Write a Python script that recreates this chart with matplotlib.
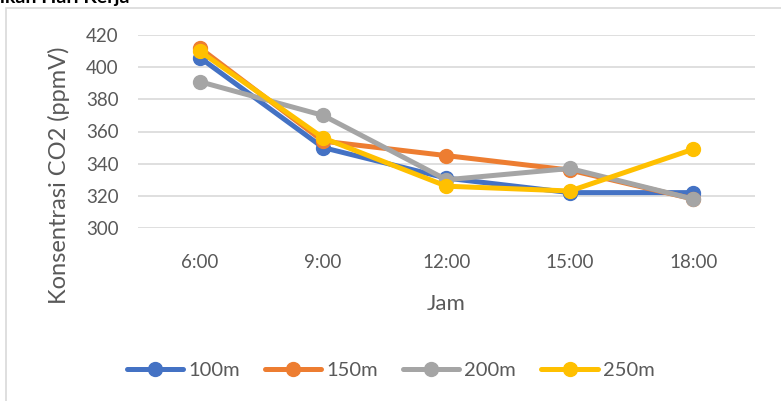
import matplotlib
matplotlib.use("Agg")
import matplotlib.pyplot as plt
from matplotlib.patches import Rectangle

categories = ["6:00", "9:00", "12:00", "15:00", "18:00"]
s100 = [406, 350, 331, 322, 322]
s150 = [412, 354, 345, 336, 318]
s200 = [391, 370, 330, 337, 318]
s250 = [410, 356, 326, 323, 349]
series_names = ["100m", "150m", "200m", "250m"]
colors = ["#4472C4", "#ED7D31", "#A5A5A5", "#FFC000"]
yticks = [300, 320, 340, 360, 380, 400, 420]

W, H = 781, 401
fig = plt.figure(figsize=(W / 100, H / 100), dpi=100)
plt.rcParams['font.family'] = ['Lato', 'DejaVu Sans']

# outer frame
fig.patches.append(Rectangle((6 / W, -0.1), 1.1, 1 - 8 / H + 0.1, transform=fig.transFigure,
                             fill=False, edgecolor="#D9D9D9", linewidth=1.2))
# title (cut off at the top edge, as in the reference)
fig.text(0.0, 1 - 3 / H, "ikan Hari Kerja", fontsize=14, fontweight="bold",
         ha="left", va="baseline", color="#000000")

ax = fig.add_axes([138 / W, 1 - 228 / H, (755 - 138) / W, (228 - 35) / H])
x = list(range(len(categories)))
for name, vals, c in zip(series_names, [s100, s150, s200, s250], colors):
    ax.plot(x, vals, color=c, linewidth=3.6, marker="o", markersize=10,
            label=name, solid_capstyle="round", zorder=3)

ax.set_xlim(-0.5, len(categories) - 0.5)
ax.set_ylim(300, 420)
ax.set_yticks(yticks)
ax.set_xticks(x)
ax.set_xticklabels(categories)
ax.grid(axis="y", color="#D9D9D9", linewidth=1.2)
ax.set_axisbelow(True)
for sp in ax.spines.values():
    sp.set_visible(False)
ax.tick_params(length=0, labelsize=13.5, colors="#595959")
ax.tick_params(axis="y", pad=14)
ax.tick_params(axis="x", pad=19)
ax.set_xlabel("Jam", fontsize=16, color="#595959", labelpad=16)
ax.set_ylabel("Konsentrasi CO2 (ppmV)", fontsize=17, color="#595959")
ax.yaxis.set_label_coords((70 - 138) / 617, (228 - 175) / 193)

leg = fig.legend(loc="center", bbox_to_anchor=(0.5, 1 - 370 / H), ncol=4, frameon=False,
                 fontsize=14.5, handlelength=2.8, columnspacing=1.25, handletextpad=0.25,
                 labelcolor="#595959")

fig.savefig("out.png", dpi=100)
